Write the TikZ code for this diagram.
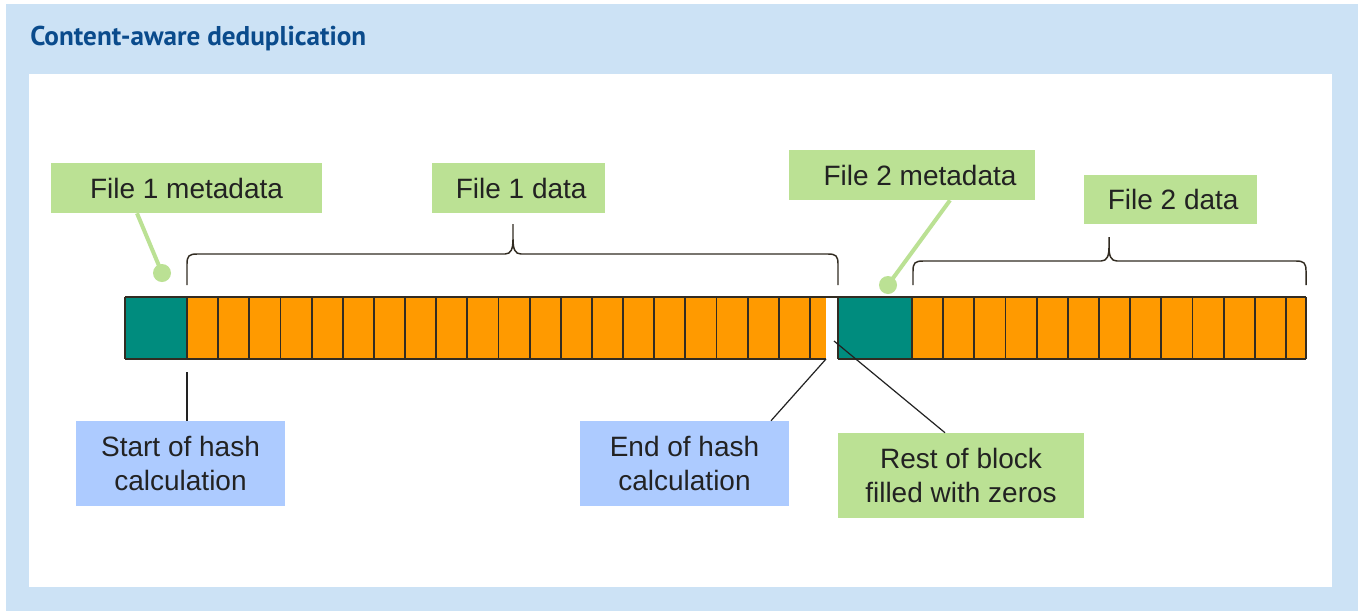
\documentclass[tikz,border=0pt]{standalone}
\usepackage{fontspec}
\setmainfont{Liberation Sans}
\newfontfamily\titlefont{PT Sans}
\definecolor{bgblue}{RGB}{204,226,245}
\definecolor{lgreen}{RGB}{187,225,148}
\definecolor{lblue}{RGB}{173,203,255}
\definecolor{bteal}{RGB}{0,140,126}
\definecolor{borange}{RGB}{255,154,0}
\definecolor{titleblue}{RGB}{10,75,140}
\definecolor{ink}{RGB}{34,34,34}
\definecolor{edge}{RGB}{50,44,34}
\begin{document}
\begin{tikzpicture}[x=0.75pt,y=-0.75pt,
  lbox/.style={inner sep=0pt, align=center, text=ink, font=\fontsize{21}{25.5}\selectfont},
  gbox/.style={lbox, fill=lgreen},
  bluebox/.style={lbox, fill=lblue},
  cellline/.style={draw=edge, line width=1.4pt},
  bracel/.style={draw=edge, line width=1.1pt},
  gline/.style={draw=lgreen, line width=3pt},
  gdot/.style={fill=lgreen},
  pointer/.style={draw=ink, line width=0.9pt}]
\useasboundingbox (0,0) rectangle (1358,611);
% backgrounds
\fill[bgblue] (6,4) rectangle (1358,611);
\fill[white] (29,74) rectangle (1332,587);
% title
\node[anchor=base west, inner sep=0pt, text=titleblue] (title) at (30,45)
  {\resizebox{252pt}{!}{\titlefont\bfseries\fontsize{21}{25}\selectfont Content-aware deduplication}};
% bar fills
\fill[borange] (187,297) rectangle (826,359);
\fill[borange] (912,297) rectangle (1306,359);
\fill[bteal] (125,297) rectangle (187,359);
\fill[bteal] (838,297) rectangle (912,359);
% bar lines
\draw[cellline] (125,297) -- (1306,297);
\draw[cellline] (125,359) -- (826,359);
\draw[cellline] (838,359) -- (1306,359);
\foreach \x in {125,187,838,912,1306} \draw[cellline] (\x,297) -- (\x,359);
\foreach \k in {1,...,20} \draw[cellline] ({187+31.15*\k},297) -- ({187+31.15*\k},359);
\foreach \k in {1,...,12} \draw[cellline] ({912+31.17*\k},297) -- ({912+31.17*\k},359);
% braces
\draw[bracel] (187,285) -- (187,264) .. controls (187,256) and (189,254) .. (197,254)
  -- (505,254) .. controls (511,254) and (513,249) .. (513,239) -- (513,224)
  (513,239) .. controls (513,249) and (515,254) .. (521,254)
  -- (828,254) .. controls (836,254) and (838,256) .. (838,264) -- (838,285);
\draw[bracel] (913,285) -- (913,271) .. controls (913,263) and (915,261) .. (923,261)
  -- (1101,261) .. controls (1107,261) and (1109,256) .. (1109,247) -- (1109,237)
  (1109,247) .. controls (1109,256) and (1111,261) .. (1117,261)
  -- (1296,261) .. controls (1304,261) and (1306,263) .. (1306,271) -- (1306,285);
% label boxes
\node[gbox, minimum width=203.25pt, minimum height=37.5pt] (f1meta) at (186.5,188) {File 1 metadata};
\node[gbox, minimum width=129.75pt, minimum height=37.5pt] (f1data) at (518.5,188) {\hspace{4pt}File 1 data};
\node[gbox, minimum width=184.5pt, minimum height=37.5pt] (f2meta) at (912,175) {\hspace{12pt}File 2 metadata};
\node[gbox, minimum width=129.75pt, minimum height=36.75pt] (f2data) at (1170.5,199.5) {\hspace{4pt}File 2 data};
\node[bluebox, minimum width=156.75pt, minimum height=63.75pt] (start) at (180.5,463.5) {Start of hash\\calculation};
\node[bluebox, minimum width=156.75pt, minimum height=63.75pt] (endh) at (684.5,463.5) {End of hash\\calculation};
\node[gbox, minimum width=184.5pt, minimum height=63.75pt] (rest) at (961,475.5) {Rest of block\\filled with zeros};
% metadata pointers
\coordinate (d1) at (162,273);
\coordinate (d1x) at (137,0);
\coordinate (d2) at (888,285);
\coordinate (d2x) at (950,0);
\draw[gline] (f1meta.south -| d1x) -- (d1);
\fill[gdot] (d1) circle (9);
\draw[gline] (f2meta.south -| d2x) -- (d2);
\fill[gdot] (d2) circle (9);
% hash pointers
\coordinate (s1) at (187,372);
\coordinate (e1) at (826,359);
\coordinate (e1x) at (771,0);
\coordinate (r1) at (834,341);
\coordinate (r1x) at (945,0);
\draw[pointer] (s1) -- (start.north -| s1);
\draw[pointer] (e1) -- (endh.north -| e1x);
\draw[pointer] (r1) -- (rest.north -| r1x);
\end{tikzpicture}
\end{document}
